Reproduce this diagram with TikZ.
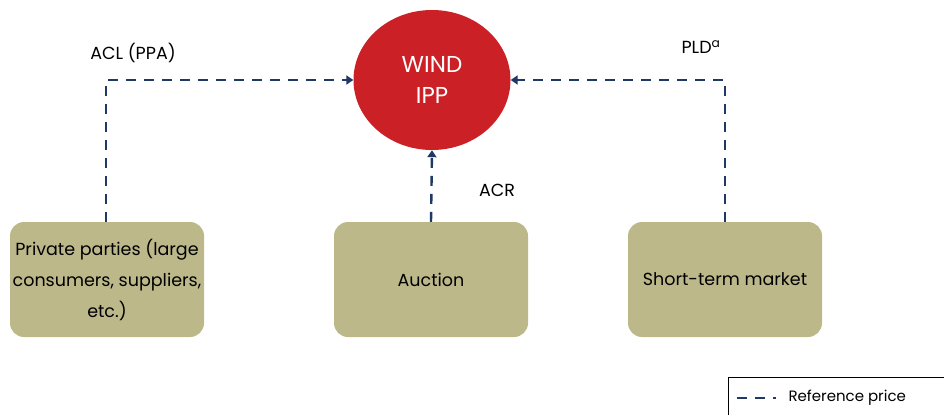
\documentclass[tikz,border=0pt]{standalone}
\usepackage{fontspec}
\setmainfont{Poppins}
\usetikzlibrary{arrows.meta,shapes.geometric}
\definecolor{navy}{HTML}{1F3864}
\definecolor{khaki}{HTML}{BCB88A}
\definecolor{windred}{HTML}{CC2027}
\tikzset{
  source/.style={draw=none, fill=khaki, rounded corners=14pt, minimum width=194pt,
    minimum height=115pt, align=center, font=\fontsize{17.5}{31}\selectfont, inner sep=2pt},
  refline/.style={draw=navy, line width=2.4pt, dash pattern=on 10pt off 8pt},
  reftip/.style={-{Triangle[width=9pt,length=7pt]}},
  lbl/.style={font=\fontsize{17.5}{20}\selectfont}
}
\begin{document}
\begin{tikzpicture}[x=1pt,y=-1pt]
  \useasboundingbox (0,0) rectangle (944,415);
  % central producer
  \node[ellipse, fill=windred, minimum width=157pt, minimum height=140pt, inner sep=0pt,
        text=white, align=center, font=\fontsize{23}{31}\selectfont] (ipp) at (432,80) {WIND\\IPP};
  % contracting environments
  \node[source] (priv) at (107,279.5) {Private parties (large\\consumers, suppliers,\\etc.)};
  \node[source] (auc) at (431,279.5) {Auction};
  \node[source] (stm) at (725,279.5) {Short-term market};
  % reference price links
  \draw[refline, reftip] (priv.north -| 106,0) |- (ipp.west);
  \draw[refline, reftip] (auc.north) -- (ipp.south);
  \draw[refline, reftip] (stm.north) |- (ipp.east);
  % link labels
  \node[lbl] (acl) at (133,53) {ACL (PPA)};
  \node[lbl] (pld) at (701,47) {PLD\textsuperscript{a}};
  \node[lbl] (acr) at (497,190) {ACR};
  % legend
  \draw[line width=0.8pt, black] (728,415) -- (728,377.5) -- (944,377.5);
  \coordinate (la) at (737,398);
  \coordinate (lb) at (776,398);
  \draw[refline] (la) -- (lb);
  \node[anchor=west, font=\fontsize{15}{17}\selectfont] (legtxt) at (785,398) {Reference price};
\end{tikzpicture}
\end{document}
